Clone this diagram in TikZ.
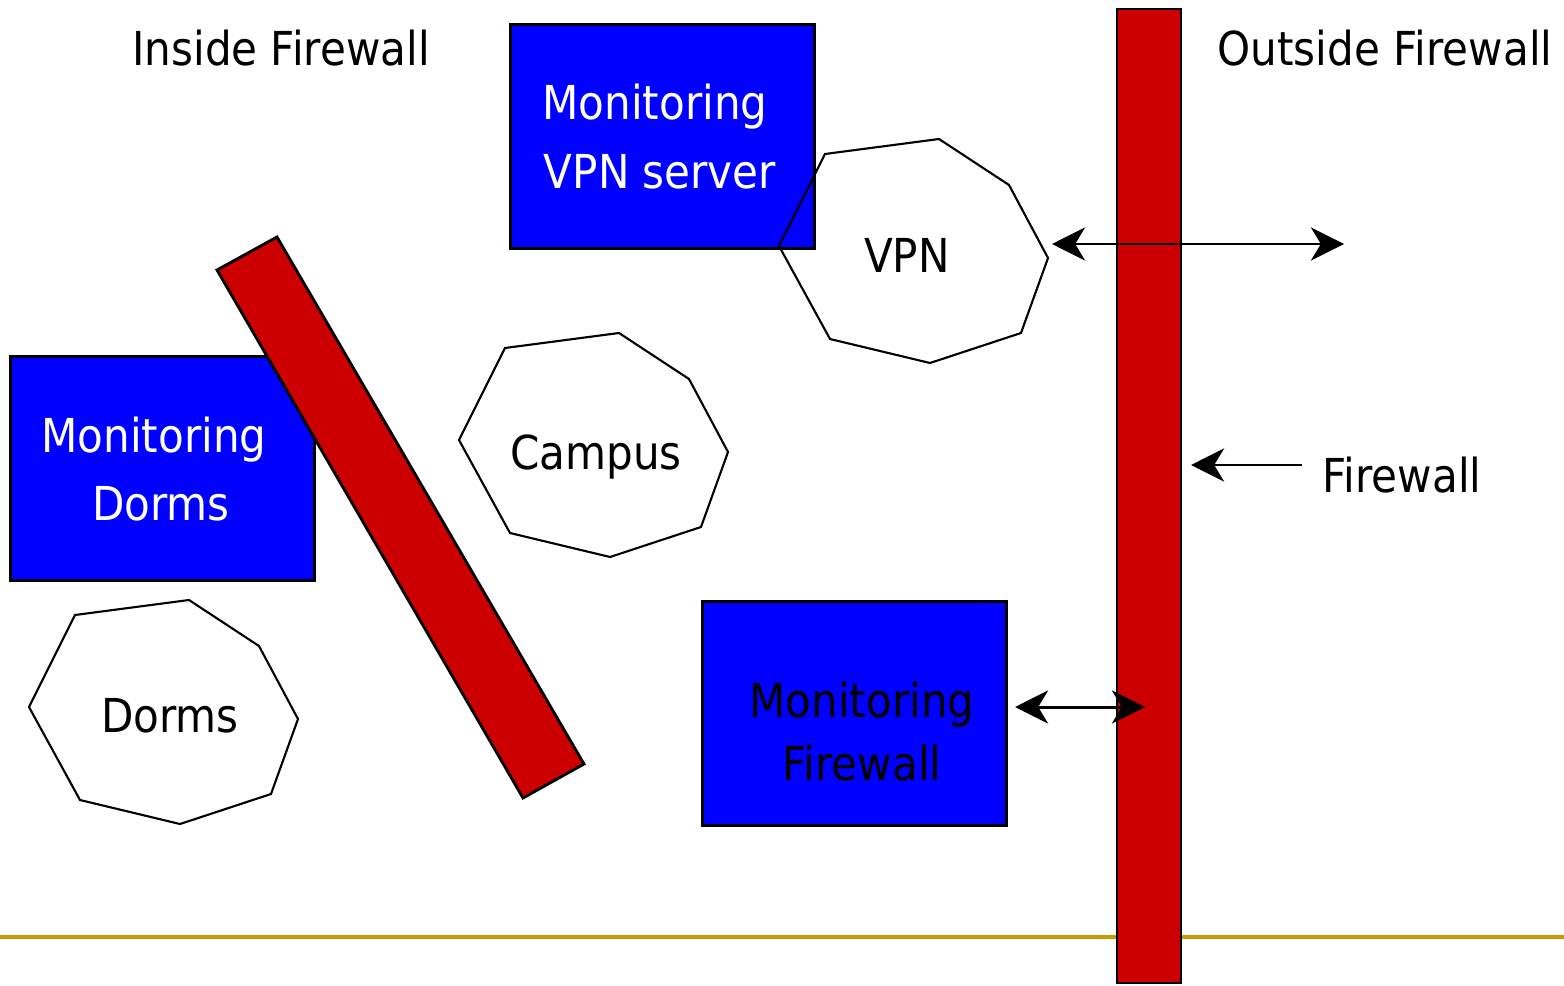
\documentclass[tikz,border=0pt]{standalone}
\usepackage{fontspec}
\setmainfont[FakeStretch=0.9]{DejaVu Sans}
\usetikzlibrary{arrows.meta}
\definecolor{barred}{HTML}{CC0000}
\definecolor{boxblue}{HTML}{0000FF}
\definecolor{rulegold}{HTML}{CC9900}
\begin{document}
\begin{tikzpicture}[x=0.01cm,y=-0.01cm,
  lbl/.style={font=\fontsize{13.3pt}{19.6pt}\selectfont,inner sep=0pt,anchor=base},
  wlbl/.style={lbl,text=white},
  monbox/.style={draw=black,line width=0.8pt,fill=boxblue,inner sep=0pt,minimum width=3.04cm,minimum height=2.24cm},
  wallbar/.style={draw=black,line width=0.8pt,fill=barred},
  octline/.style={draw=black,line width=0.6pt},
  dblarrow/.style={line width=0.85pt,{Stealth[length=9.4pt,width=9.4pt,inset=2.8pt]}-{Stealth[length=9.4pt,width=9.4pt,inset=2.8pt]}},
  onearrow/.style={line width=0.85pt,-{Stealth[length=9.4pt,width=9.4pt,inset=2.8pt]}},
  octa/.pic={\draw[octline] (0,0) -- (46,-92) -- (160,-107) -- (230,-61) -- (269,12) -- (242,87) -- (151,117) -- (51,93) -- cycle;}
]
\useasboundingbox (0,0) rectangle (1564,985);
\fill[white] (0,0) rectangle (1564,985);

% gold rule
\draw[rulegold,line width=1.1pt] (0,937) -- (1564,937);

% titles
\node[lbl] (inside) at (281,66) {Inside Firewall};
\node[lbl] (outside) at (1385,66) {Outside Firewall};

% Monitoring VPN server box and VPN cloud
\node[monbox,anchor=north west] (monvpn) at (509,23) {};
\node[wlbl] (monvpnA) at (655,120) {Monitoring};
\node[wlbl] (monvpnB) at (660,189) {VPN server};
\pic (vpn) at (779,246) {octa};
\node[lbl] (vpntxt) at (907,272) {VPN};

% Monitoring Dorms box and diagonal firewall
\node[monbox,anchor=north west] (mondorms) at (9,355) {};
\node[wlbl] (mondormsA) at (154,452) {Monitoring};
\node[wlbl] (mondormsB) at (161,520) {Dorms};
\draw[wallbar] (217,270) -- (277,237) -- (584,764) -- (523,798) -- cycle;

% Campus and Dorms clouds
\pic (campus) at (459,440) {octa};
\node[lbl] (campustxt) at (596,469) {Campus};
\pic (dorms) at (29,707) {octa};
\node[lbl] (dormstxt) at (170,732) {Dorms};

% Monitoring Firewall box
\node[monbox,anchor=north west] (monfw) at (701,600) {};
\node[lbl] (monfwA) at (862,717) {Monitoring};
\node[lbl] (monfwB) at (862,780) {Firewall};

% main firewall
\draw[wallbar] (1117,9) rectangle (1181,983);
\node[lbl] (fwtxt) at (1402,492) {Firewall};

% connectors
\coordinate (vpnL) at (1052,244);
\coordinate (vpnR) at (1344,244);
\coordinate (fwS) at (1302,465);
\coordinate (fwT) at (1191,465);
\coordinate (mfL) at (1015,707);
\coordinate (mfR) at (1145,707);
\draw[dblarrow] (vpnL) -- (vpnR);
\draw[onearrow] (fwS) -- (fwT);
\draw[dblarrow] (mfL) -- (mfR);
\end{tikzpicture}
\end{document}
